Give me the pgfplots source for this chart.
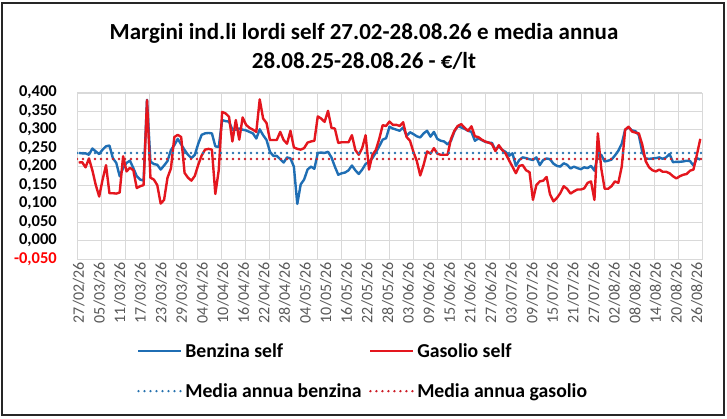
\documentclass[border=0pt]{standalone}
\usepackage{pgfplots}
\pgfplotsset{compat=1.18}
\usepackage{fontspec}
\setmainfont{Carlito}
\definecolor{benz}{RGB}{31,110,180}
\definecolor{gas}{RGB}{228,22,30}
\definecolor{benzdot}{RGB}{40,115,175}
\definecolor{gasdot}{RGB}{205,30,40}
\definecolor{gridc}{RGB}{217,217,217}
\definecolor{xlab}{RGB}{89,89,89}
\begin{document}
\begin{tikzpicture}
\path[fill=white] (0,0) rectangle (727pt,418pt);
\draw[line width=2pt, black!85] (2pt,3pt) rectangle (724pt,415pt);
\node[font=\fontsize{23}{29}\selectfont\bfseries, align=center] at (364pt,372pt) {Margini ind.li lordi self 27.02-28.08.26 e media annua\\28.08.25-28.08.26 - €/lt};
\begin{axis}[
  at={(77pt,159pt)}, anchor=south west,
  scale only axis, width=625pt, height=166.3pt,
  xmin=-0.5, xmax=182.5, ymin=-0.05, ymax=0.4,
  axis line style={draw=gridc},
  major tick length=0pt, minor tick length=0pt,
  ymajorgrids=true, xmajorgrids=false, xminorgrids=true,
  grid style={draw=gridc, line width=0.8pt},
  minor grid style={draw=gridc, line width=0.8pt},
  ytick={-0.05,0,0.05,0.1,0.15,0.2,0.25,0.3,0.35,0.4},
  yticklabels={{\textcolor{red}{-0,050}},{0,000},{0,050},{0,100},{0,150},{0,200},{0,250},{0,300},{0,350},{0,400}},
  yticklabel style={font=\fontsize{16.5}{18}\selectfont\bfseries, anchor=east, inner sep=0pt, xshift=-20pt},
  xtick={0,6.033,12.067,18.1,24.134,30.167,36.2,42.234,48.267,54.3,60.334,66.367,72.4,78.434,84.468,90.5,96.534,102.568,108.6,114.635,120.668,126.7,132.735,138.768,144.8,150.835,156.868,162.9,168.935,174.968,181.0},
  xticklabels={27/02/26,05/03/26,11/03/26,17/03/26,23/03/26,29/03/26,04/04/26,10/04/26,16/04/26,22/04/26,28/04/26,04/05/26,10/05/26,16/05/26,22/05/26,28/05/26,03/06/26,09/06/26,15/06/26,21/06/26,27/06/26,03/07/26,09/07/26,15/07/26,21/07/26,27/07/26,02/08/26,08/08/26,14/08/26,20/08/26,26/08/26},
  xticklabel style={font=\fontsize{16}{18}\selectfont, text=xlab, rotate=90, anchor=east, inner sep=3pt},
  minor xtick={6.538,13.577,20.615,27.654,34.692,41.731,48.769,55.808,62.846,69.885,76.923,83.962,91.0,98.038,105.077,112.115,119.154,126.192,133.231,140.269,147.308,154.346,161.385,168.423,175.462},
  legend columns=2,
  legend cell align=left,
  legend style={draw=none, fill=none, inner sep=0pt, at={(rel axis cs:0.096,-0.49)}, anchor=north west,
    font=\fontsize{19.7}{22}\selectfont\bfseries, row sep=20pt,
    nodes={inner sep=2.5pt},
    /tikz/every even column/.append style={column sep=5pt}},
  legend image code/.code={\draw[#1] (0pt,0pt) -- (43pt,0pt);},
]
\addplot[benz, line width=2.4pt, line join=round] coordinates {
(0,0.237)(1,0.236)(2,0.236)(3,0.232)(4,0.249)(5,0.241)(6,0.234)(7,0.246)(8,0.255)(9,0.257)
(10,0.223)(11,0.210)(12,0.174)(13,0.196)(14,0.210)(15,0.216)(16,0.196)(17,0.174)(18,0.165)(19,0.162)
(20,0.381)(21,0.214)(22,0.207)(23,0.205)(24,0.192)(25,0.203)(26,0.215)(27,0.245)(28,0.258)(29,0.275)
(30,0.260)(31,0.245)(32,0.232)(33,0.223)(34,0.232)(35,0.262)(36,0.286)(37,0.290)(38,0.291)(39,0.290)
(40,0.255)(41,0.253)(42,0.326)(43,0.323)(44,0.322)(45,0.300)(46,0.300)(47,0.303)(48,0.300)(49,0.298)
(50,0.294)(51,0.290)(52,0.276)(53,0.301)(54,0.285)(55,0.272)(56,0.240)(57,0.229)(58,0.229)(59,0.220)
(60,0.211)(61,0.225)(62,0.222)(63,0.200)(64,0.099)(65,0.152)(66,0.165)(67,0.192)(68,0.200)(69,0.194)
(70,0.237)(71,0.238)(72,0.237)(73,0.240)(74,0.225)(75,0.200)(76,0.178)(77,0.182)(78,0.184)(79,0.190)
(80,0.203)(81,0.190)(82,0.180)(83,0.192)(84,0.207)(85,0.213)(86,0.223)(87,0.238)(88,0.255)(89,0.273)
(90,0.277)(91,0.308)(92,0.303)(93,0.300)(94,0.297)(95,0.306)(96,0.283)(97,0.293)(98,0.288)(99,0.282)
(100,0.279)(101,0.290)(102,0.297)(103,0.281)(104,0.294)(105,0.275)(106,0.270)(107,0.268)(108,0.260)(109,0.270)
(110,0.295)(111,0.310)(112,0.306)(113,0.302)(114,0.297)(115,0.294)(116,0.270)(117,0.276)(118,0.272)(119,0.267)
(120,0.265)(121,0.264)(122,0.245)(123,0.255)(124,0.245)(125,0.240)(126,0.229)(127,0.236)(128,0.202)(129,0.218)
(130,0.225)(131,0.223)(132,0.220)(133,0.218)(134,0.225)(135,0.204)(136,0.218)(137,0.222)(138,0.220)(139,0.208)
(140,0.202)(141,0.200)(142,0.209)(143,0.205)(144,0.195)(145,0.200)(146,0.196)(147,0.193)(148,0.198)(149,0.196)
(150,0.202)(151,0.189)(152,0.231)(153,0.232)(154,0.214)(155,0.216)(156,0.219)(157,0.230)(158,0.243)(159,0.262)
(160,0.300)(161,0.306)(162,0.298)(163,0.296)(164,0.285)(165,0.240)(166,0.222)(167,0.221)(168,0.222)(169,0.223)
(170,0.225)(171,0.221)(172,0.225)(173,0.234)(174,0.212)(175,0.213)(176,0.213)(177,0.214)(178,0.216)(179,0.215)
(180,0.203)(181,0.223)(182,0.219)
};
\addlegendentry{Benzina self}
\addplot[gas, line width=2.4pt, line join=round] coordinates {
(0,0.211)(1,0.212)(2,0.198)(3,0.222)(4,0.190)(5,0.150)(6,0.119)(7,0.165)(8,0.204)(9,0.128)
(10,0.128)(11,0.127)(12,0.130)(13,0.228)(14,0.187)(15,0.197)(16,0.190)(17,0.142)(18,0.147)(19,0.150)
(20,0.380)(21,0.170)(22,0.165)(23,0.150)(24,0.100)(25,0.110)(26,0.170)(27,0.195)(28,0.280)(29,0.286)
(30,0.280)(31,0.183)(32,0.170)(33,0.162)(34,0.175)(35,0.205)(36,0.230)(37,0.246)(38,0.248)(39,0.246)
(40,0.126)(41,0.190)(42,0.348)(43,0.344)(44,0.335)(45,0.268)(46,0.326)(47,0.273)(48,0.333)(49,0.313)
(50,0.305)(51,0.300)(52,0.294)(53,0.382)(54,0.330)(55,0.318)(56,0.272)(57,0.272)(58,0.272)(59,0.294)
(60,0.272)(61,0.262)(62,0.297)(63,0.252)(64,0.248)(65,0.246)(66,0.250)(67,0.265)(68,0.268)(69,0.270)
(70,0.336)(71,0.330)(72,0.321)(73,0.351)(74,0.305)(75,0.303)(76,0.264)(77,0.266)(78,0.266)(79,0.266)
(80,0.285)(81,0.245)(82,0.232)(83,0.250)(84,0.285)(85,0.192)(86,0.232)(87,0.245)(88,0.275)(89,0.312)
(90,0.310)(91,0.322)(92,0.313)(93,0.313)(94,0.310)(95,0.320)(96,0.280)(97,0.270)(98,0.240)(99,0.215)
(100,0.176)(101,0.205)(102,0.241)(103,0.235)(104,0.250)(105,0.235)(106,0.232)(107,0.232)(108,0.232)(109,0.275)
(110,0.297)(111,0.310)(112,0.315)(113,0.305)(114,0.297)(115,0.309)(116,0.282)(117,0.280)(118,0.273)(119,0.268)
(120,0.265)(121,0.261)(122,0.242)(123,0.258)(124,0.245)(125,0.235)(126,0.217)(127,0.200)(128,0.182)(129,0.202)
(130,0.204)(131,0.190)(132,0.185)(133,0.110)(134,0.150)(135,0.160)(136,0.162)(137,0.172)(138,0.125)(139,0.106)
(140,0.115)(141,0.128)(142,0.147)(143,0.140)(144,0.127)(145,0.133)(146,0.138)(147,0.138)(148,0.141)(149,0.156)
(150,0.160)(151,0.110)(152,0.290)(153,0.195)(154,0.140)(155,0.140)(156,0.147)(157,0.160)(158,0.156)(159,0.200)
(160,0.300)(161,0.308)(162,0.295)(163,0.292)(164,0.290)(165,0.260)(166,0.215)(167,0.198)(168,0.190)(169,0.187)
(170,0.192)(171,0.186)(172,0.186)(173,0.182)(174,0.174)(175,0.168)(176,0.174)(177,0.178)(178,0.180)(179,0.189)
(180,0.192)(181,0.232)(182,0.275)
};
\addlegendentry{Gasolio self}
\addplot[benzdot, line width=2.6pt, line cap=round, dash pattern=on 0pt off 6pt] coordinates {(-0.5,0.2368)(182.5,0.2368)};
\addlegendentry{Media annua benzina}
\addplot[gasdot, line width=2.6pt, line cap=round, dash pattern=on 0pt off 6pt] coordinates {(-0.5,0.2205)(182.5,0.2205)};
\addlegendentry{Media annua gasolio}
\end{axis}
\end{tikzpicture}
\end{document}
